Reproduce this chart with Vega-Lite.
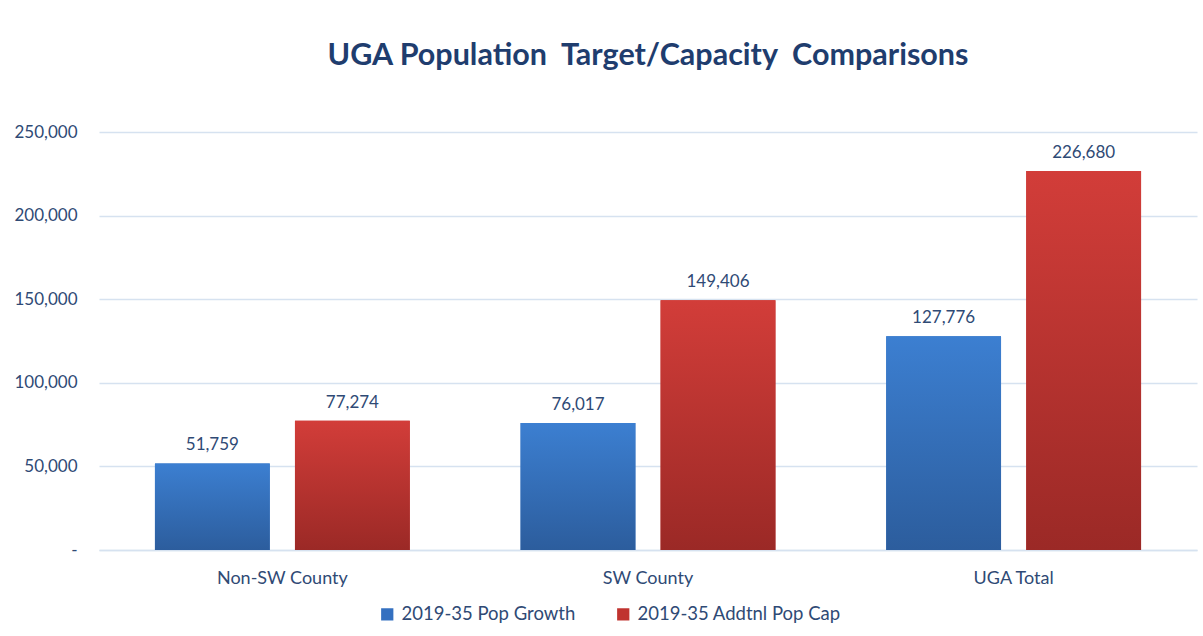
{
  "$schema": "https://vega.github.io/schema/vega-lite/v6.json",
  "width": 1098,
  "height": 418,
  "autosize": "none",
  "padding": {"left": 99, "top": 132, "right": 6, "bottom": 86},
  "background": "white",
  "title": {"text": "UGA Population\u00a0 Target/Capacity\u00a0 Comparisons", "fontSize": 30.5, "font": "Lato", "fontWeight": "bold", "color": "#1f3d6e", "anchor": "middle", "baseline": "alphabetic", "offset": 28},
  "data": {"values": [
    {"Area": "Non-SW County", "Series": "2019-35 Pop Growth", "Value": 51759},
    {"Area": "Non-SW County", "Series": "2019-35 Addtnl Pop Cap", "Value": 77274},
    {"Area": "SW County", "Series": "2019-35 Pop Growth", "Value": 76017},
    {"Area": "SW County", "Series": "2019-35 Addtnl Pop Cap", "Value": 149406},
    {"Area": "UGA Total", "Series": "2019-35 Pop Growth", "Value": 127776},
    {"Area": "UGA Total", "Series": "2019-35 Addtnl Pop Cap", "Value": 226680}
  ]},
  "encoding": {
    "x": {"field": "Area", "type": "nominal", "sort": ["Non-SW County", "SW County", "UGA Total"],
      "scale": {"paddingInner": 0.303, "paddingOuter": 0.153},
      "axis": {"title": null, "labelAngle": 0, "ticks": false, "domainColor": "#d6e2f0", "domainWidth": 1.5, "labelPadding": 19, "labelFontSize": 18, "labelFont": "Lato", "labelColor": "#2f4a75"}},
    "xOffset": {"field": "Series", "type": "nominal", "sort": ["2019-35 Pop Growth", "2019-35 Addtnl Pop Cap"], "scale": {"paddingInner": 0.18, "paddingOuter": 0}},
    "y": {"field": "Value", "type": "quantitative", "scale": {"domain": [0, 250000]},
      "axis": {"values": [0, 50000, 100000, 150000, 200000, 250000], "labelExpr": "datum.value == 0 ? '-' : format(datum.value, ',')", "domain": false, "ticks": false, "title": null, "labelPadding": 22, "gridColor": "#d6e2f0", "gridWidth": 1.5, "labelFontSize": 17, "labelColor": "#2f4a75", "labelFont": "Lato"}}
  },
  "layer": [
    {"mark": {"type": "bar"},
     "encoding": {"color": {"field": "Series", "type": "nominal",
       "scale": {"domain": ["2019-35 Pop Growth", "2019-35 Addtnl Pop Cap"], "range": ["#3470c0", "#c0332f"]},
       "legend": {"orient": "none", "legendX": 279, "legendY": 473, "direction": "horizontal", "title": null, "symbolType": "square", "symbolSize": 150, "symbolStrokeWidth": 0, "labelFontSize": 18.5, "labelFont": "Lato", "labelColor": "#2f4a75", "labelLimit": 400, "columnPadding": 38, "labelOffset": 5}}}},
    {"transform": [{"filter": "datum.Series === '2019-35 Pop Growth'"}],
     "mark": {"type": "bar", "color": {"gradient": "linear", "x1": 0, "y1": 0, "x2": 0, "y2": 1, "stops": [{"offset": 0, "color": "#3c7fd1"}, {"offset": 1, "color": "#2c5d9d"}]}}},
    {"transform": [{"filter": "datum.Series === '2019-35 Addtnl Pop Cap'"}],
     "mark": {"type": "bar", "color": {"gradient": "linear", "x1": 0, "y1": 0, "x2": 0, "y2": 1, "stops": [{"offset": 0, "color": "#d23d39"}, {"offset": 1, "color": "#9b2926"}]}}},
    {"mark": {"type": "text", "baseline": "bottom", "dy": -9, "fontSize": 17, "font": "Lato", "color": "#2f4a75"},
     "encoding": {"text": {"field": "Value", "type": "quantitative", "format": ","}}}
  ],
  "config": {"view": {"stroke": null}}
}
